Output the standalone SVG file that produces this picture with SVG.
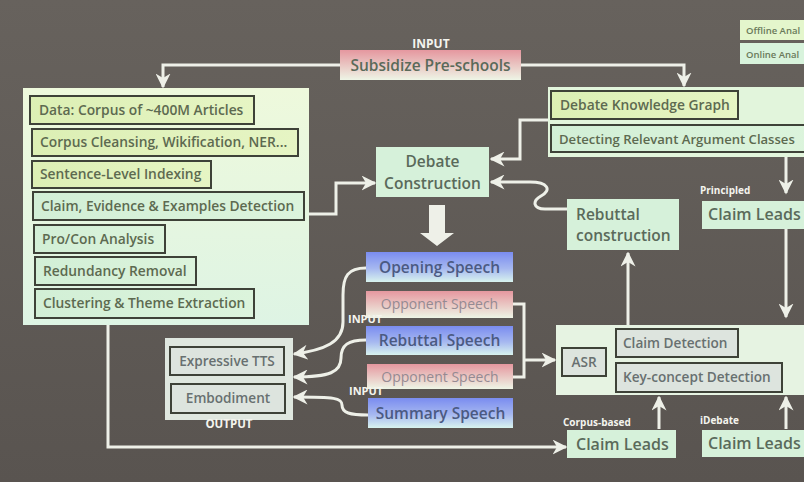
<svg xmlns="http://www.w3.org/2000/svg" width="804" height="482" viewBox="0 0 804 482">
<defs>
<linearGradient id="bg" x1="0" y1="0" x2="0" y2="1"><stop offset="0" stop-color="#67625d"/><stop offset="1" stop-color="#595450"/></linearGradient>
<linearGradient id="pink" x1="0" y1="0" x2="0" y2="1"><stop offset="0" stop-color="#e5979f"/><stop offset="1" stop-color="#eef5e6"/></linearGradient>
<linearGradient id="blue" x1="0" y1="0" x2="0" y2="1"><stop offset="0" stop-color="#7a8cf0"/><stop offset="0.55" stop-color="#a6b8f0"/><stop offset="1" stop-color="#d8f3ee"/></linearGradient>
<linearGradient id="panel" x1="0" y1="0" x2="0" y2="1"><stop offset="0" stop-color="#eef9dc"/><stop offset="1" stop-color="#def4e4"/></linearGradient>
<linearGradient id="yel" x1="0" y1="0" x2="1" y2="0"><stop offset="0" stop-color="#dcefb4"/><stop offset="1" stop-color="#e6f5c4"/></linearGradient>
<linearGradient id="mint" x1="0" y1="0" x2="1" y2="0"><stop offset="0" stop-color="#d2efd6"/><stop offset="1" stop-color="#dcf4dc"/></linearGradient>
<marker id="ah" viewBox="0 0 10 10" markerWidth="15" markerHeight="15" refX="9" refY="5" orient="auto" markerUnits="userSpaceOnUse"><path d="M0,0 L10,5 L0,10 L3,5 z" fill="#eef0e8"/></marker>
<style>
.t{font-family:"Open Sans","Liberation Sans",sans-serif;font-weight:600}
.lp{font-size:13.8px;fill:#5d6a50}
.ib{stroke:#3e4238;stroke-width:2}
.gn{fill:#d6f1da}
.big{font-size:15.5px;fill:#5a6a5a}
.sp{font-size:15.5px;fill:#4b5a82}
.op{font-size:14px;fill:#958a92;font-weight:400}
.wh{font-size:11px;fill:#f4f4ee;font-weight:700}
.gr{fill:#dde4de;stroke:#3e4238;stroke-width:2}
.grt{font-size:13.6px;fill:#687070}
.cn{fill:none;stroke:#eef0e8;stroke-width:3}
</style>
</defs>
<rect width="804" height="482" fill="url(#bg)"/>

<g id="input">
<text class="t wh" x="431" y="48" text-anchor="middle" style="font-size:12px">INPUT</text>
<rect x="340" y="50" width="181" height="30" fill="url(#pink)"/>
<text class="t big" x="430.5" y="71" text-anchor="middle">Subsidize Pre-schools</text>
</g>

<g id="legend">
<rect x="740" y="20" width="70" height="20" fill="#e4f6cc"/>
<text class="t" x="746" y="34" font-size="9.5" fill="#6a7a5a">Offline Anal</text>
<rect x="740" y="43" width="70" height="21" fill="#d8f3dc"/>
<text class="t" x="746" y="58" font-size="9.5" fill="#6a7a5a">Online Anal</text>
</g>

<g id="offline-panel">
<rect x="23" y="88" width="286" height="237" fill="url(#panel)"/>
<rect class="ib" x="30" y="96" width="224" height="28" fill="url(#yel)"/>
<text class="t lp" x="39" y="115">Data: Corpus of ~400M Articles</text>
<rect class="ib" x="32" y="129" width="266" height="27" fill="url(#yel)"/>
<text class="t lp" x="40" y="147">Corpus Cleansing, Wikification, NER...</text>
<rect class="ib" x="32" y="161" width="179" height="27" fill="url(#yel)"/>
<text class="t lp" x="40" y="179">Sentence-Level Indexing</text>
<rect class="ib" x="33" y="192" width="271" height="28" fill="url(#mint)"/>
<text class="t lp" x="41" y="211">Claim, Evidence &amp; Examples Detection</text>
<rect class="ib" x="34" y="225" width="131" height="28" fill="url(#mint)"/>
<text class="t lp" x="42" y="244">Pro/Con Analysis</text>
<rect class="ib" x="35" y="257" width="161" height="28" fill="url(#mint)"/>
<text class="t lp" x="43" y="276">Redundancy Removal</text>
<rect class="ib" x="35" y="289" width="219" height="29" fill="url(#mint)"/>
<text class="t lp" x="43" y="308">Clustering &amp; Theme Extraction</text>
</g>

<g id="knowledge-panel">
<rect x="548" y="87" width="270" height="70" fill="#e2f5dc"/>
<rect class="ib" x="551" y="91" width="187" height="28" fill="url(#yel)"/>
<text class="t lp" x="560" y="110">Debate Knowledge Graph</text>
<rect class="ib" x="551" y="125" width="270" height="27" fill="url(#mint)"/>
<text class="t lp" x="559" y="144" style="font-size:13.1px">Detecting Relevant Argument Classes</text>
</g>

<g id="debate-construction">
<rect class="gn" x="376" y="147" width="113" height="50"/>
<text class="t big" x="432.5" y="167" text-anchor="middle">Debate</text>
<text class="t big" x="432.5" y="189" text-anchor="middle">Construction</text>
</g>

<g id="rebuttal-construction">
<rect class="gn" x="567" y="199" width="112" height="51"/>
<text class="t big" x="576" y="220">Rebuttal</text>
<text class="t big" x="576" y="241">construction</text>
</g>

<g id="principled-leads">
<text class="t wh" x="700" y="194" style="font-size:10px">Principled</text>
<rect class="gn" x="702" y="201" width="110" height="28"/>
<text class="t big" x="708" y="220" style="font-size:16px">Claim Leads</text>
</g>

<g id="speeches">
<rect x="366" y="252" width="147" height="30" fill="url(#blue)"/>
<text class="t sp" x="439.5" y="273" text-anchor="middle">Opening Speech</text>
<rect x="366" y="291" width="147" height="27" fill="url(#pink)"/>
<text class="t op" x="439.5" y="309" text-anchor="middle">Opponent Speech</text>
<rect x="366" y="326" width="147" height="29" fill="url(#blue)"/>
<text class="t sp" x="439.5" y="346" text-anchor="middle">Rebuttal Speech</text>
<rect x="367" y="364" width="146" height="25" fill="url(#pink)"/>
<text class="t op" x="440" y="382" text-anchor="middle">Opponent Speech</text>
<rect x="368" y="398" width="145" height="30" fill="url(#blue)"/>
<text class="t sp" x="440.5" y="419" text-anchor="middle">Summary Speech</text>
<text class="t wh" x="348" y="323">INPUT</text>
<text class="t wh" x="349" y="395">INPUT</text>
</g>

<g id="output-panel">
<rect x="165" y="338" width="128" height="82" fill="#dfe7df"/>
<rect class="gr" x="170" y="347" width="114" height="28"/>
<text class="t grt" x="227" y="366" text-anchor="middle">Expressive TTS</text>
<rect class="gr" x="171" y="384" width="114" height="29"/>
<text class="t grt" x="228" y="403" text-anchor="middle">Embodiment</text>
<text class="t wh" x="229" y="428" text-anchor="middle" style="font-size:11.5px">OUTPUT</text>
</g>

<g id="online-panel">
<rect x="556" y="325" width="262" height="70" fill="#e6f3e2"/>
<rect class="gr" x="562" y="348" width="44" height="28"/>
<text class="t grt" x="584" y="367" text-anchor="middle">ASR</text>
<rect class="gr" x="616" y="329" width="122" height="28"/>
<text class="t grt" x="623" y="348">Claim Detection</text>
<rect class="gr" x="616" y="363" width="166" height="29"/>
<text class="t grt" x="623" y="382">Key-concept Detection</text>
</g>

<g id="corpus-leads">
<text class="t wh" x="563" y="426" style="font-size:10px">Corpus-based</text>
<rect class="gn" x="567" y="430" width="109" height="28"/>
<text class="t big" x="576" y="450" style="font-size:16px">Claim Leads</text>
</g>

<g id="idebate-leads">
<text class="t wh" x="700" y="424" style="font-size:10px">iDebate</text>
<rect class="gn" x="702" y="430" width="110" height="27"/>
<text class="t big" x="708" y="449" style="font-size:16px">Claim Leads</text>
</g>

<g id="connectors">
<path class="cn" d="M340,65 H163 V87" marker-end="url(#ah)"/>
<path class="cn" d="M521,65 H684 V86" marker-end="url(#ah)"/>
<path class="cn" d="M309,214 H336 V183 H375" marker-end="url(#ah)"/>
<path class="cn" d="M548,120 H520 V159 H491" marker-end="url(#ah)"/>
<path class="cn" d="M567,209 H545 C533,209 532,201 541,196 C552,190 548,182 530,182 H491" marker-end="url(#ah)"/>
<path d="M429,205 H445 V233 H454 L437,246 L420,233 H429 Z" fill="#eef0e8"/>
<path class="cn" d="M366,268 C348,268 343,276 343,295 V322 C343,342 325,350 294,354" marker-end="url(#ah)"/>
<path class="cn" d="M366,340 C348,340 341,345 341,358 C341,372 330,377 294,377" marker-end="url(#ah)"/>
<path class="cn" d="M368,415 C350,415 342,413 342,405 C342,398 335,397 294,397" marker-end="url(#ah)"/>
<path class="cn" d="M513,304 H524 V377 H513"/>
<path class="cn" d="M524,360 H555" marker-end="url(#ah)"/>
<path class="cn" d="M628,325 V253" marker-end="url(#ah)"/>
<path class="cn" d="M786,157 V193" marker-end="url(#ah)"/>
<path class="cn" d="M786,229 V317" marker-end="url(#ah)"/>
<path class="cn" d="M659,429 V397" marker-end="url(#ah)"/>
<path class="cn" d="M786,429 V397" marker-end="url(#ah)"/>
<path class="cn" d="M108,325 V447 H566" marker-end="url(#ah)"/>
</g>
</svg>
